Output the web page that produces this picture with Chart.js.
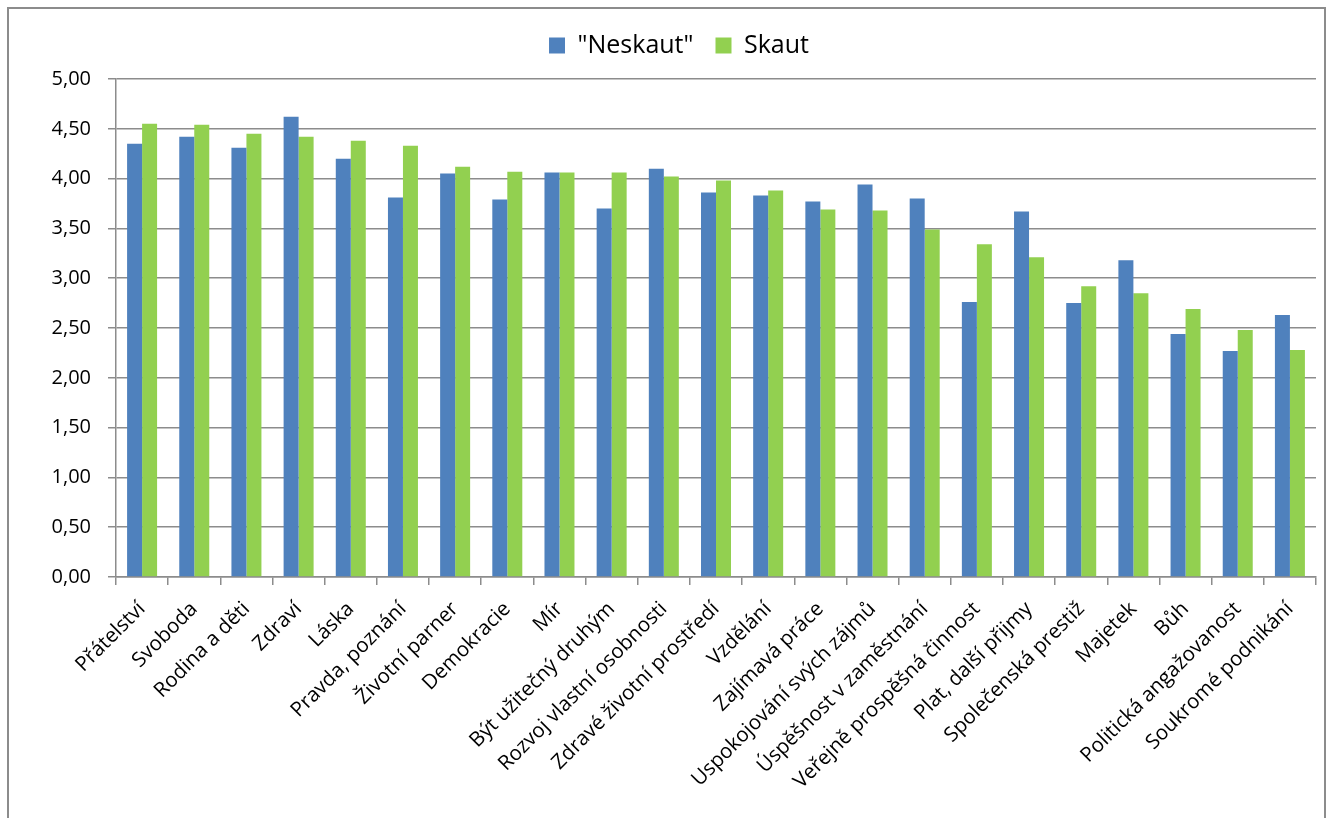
<!DOCTYPE html>
<html>
<head>
<meta charset="utf-8">
<script src="https://cdn.jsdelivr.net/npm/chart.js@4/dist/chart.umd.min.js"></script>
<style>
  html, body { margin: 0; padding: 0; background: #fff; }
  #frame { position: absolute; left: 7px; top: 7px; width: 1319px; height: 830px; border: 2px solid #8c8c8c; box-sizing: border-box; }
  #chart { position: absolute; left: 0; top: 0; }
</style>
</head>
<body>
<div id="frame"></div>
<canvas id="chart" width="1344" height="818"></canvas>
<script>
// hodnoty
var categories = [
	"Přátelství", "Svoboda", "Rodina a děti", "Zdraví", "Láska", "Pravda, poznání",
	"Životní parner", "Demokracie", "Mír", "Být užitečný druhým", "Rozvoj vlastní osobnosti",
	"Zdravé životní prostředí", "Vzdělání", "Zajímavá práce", "Uspokojování svých zájmů",
	"Úspěšnost v zaměstnání", "Veřejně prospěšná činnost", "Plat, další přijmy",
	"Společenská prestiž", "Majetek", "Bůh", "Politická angažovanost", "Soukromé podnikání"
];
var neskaut = [4.35, 4.42, 4.31, 4.62, 4.20, 3.81, 4.05, 3.79, 4.06, 3.70, 4.10, 3.86,
	3.83, 3.77, 3.94, 3.80, 2.76, 3.67, 2.75, 3.18, 2.44, 2.27, 2.63];
var skaut = [4.55, 4.54, 4.45, 4.42, 4.38, 4.33, 4.12, 4.07, 4.06, 4.06, 4.02, 3.98,
	3.88, 3.69, 3.68, 3.49, 3.34, 3.21, 2.92, 2.85, 2.69, 2.48, 2.28];
var seriesNames = ['"Neskaut"', "Skaut"];

var gridColor = "#8c8c8c";

// legenda: pevna vyska a posun doprava
var legendFix = {
	id: "legendFix",
	beforeInit: function(chart) {
		var origFit = chart.legend.fit;
		chart.legend.fit = function() {
			origFit.call(this);
			this.height = 68;
		};
	},
	afterLayout: function(chart) {
		chart.legend.left += 21;
		chart.legend.right += 21;
	}
};

window.onload = function() {
	var ctx = document.getElementById("chart").getContext("2d");
	var mychart = new Chart(ctx, {
		type: "bar",
		data: {
			labels: categories,
			datasets: [
				{ label: seriesNames[0], data: neskaut, backgroundColor: "#4f81bd", borderWidth: 0 },
				{ label: seriesNames[1], data: skaut, backgroundColor: "#92d050", borderWidth: 0 }
			]
		},
		options: {
			responsive: false,
			animation: false,
			devicePixelRatio: 1,
			layout: { padding: { top: 11, left: 0, right: 28, bottom: 0 } },
			datasets: { bar: { barPercentage: 1, categoryPercentage: 0.575 } },
			plugins: {
				legend: {
					position: "top",
					labels: {
						color: "#000",
						font: { family: "Open Sans", size: 25 },
						boxWidth: 16,
						boxHeight: 16,
						padding: 22
					}
				},
				tooltip: { enabled: false }
			},
			scales: {
				x: {
					grid: { offset: true, drawOnChartArea: false, drawTicks: true, tickLength: 8, color: gridColor, lineWidth: 1.5 },
					border: { color: gridColor, width: 1.5 },
					ticks: {
						color: "#000",
						font: { family: "Open Sans", size: 20.5 },
						maxRotation: 45,
						minRotation: 45,
						autoSkip: false,
						padding: 12
					},
					afterFit: function(scale) { scale.height = 241; }
				},
				y: {
					min: 0,
					max: 5,
					grid: { color: gridColor, lineWidth: 1.5, tickLength: 8 },
					border: { color: gridColor, width: 1.5 },
					ticks: {
						stepSize: 0.5,
						color: "#000",
						font: { family: "Open Sans", size: 20 },
						padding: 17,
						callback: function(v) { return v.toFixed(2).replace(".", ","); }
					},
					afterFit: function(scale) { scale.width = 116; }
				}
			}
		},
		plugins: [legendFix]
	});
};
</script>
</body>
</html>
